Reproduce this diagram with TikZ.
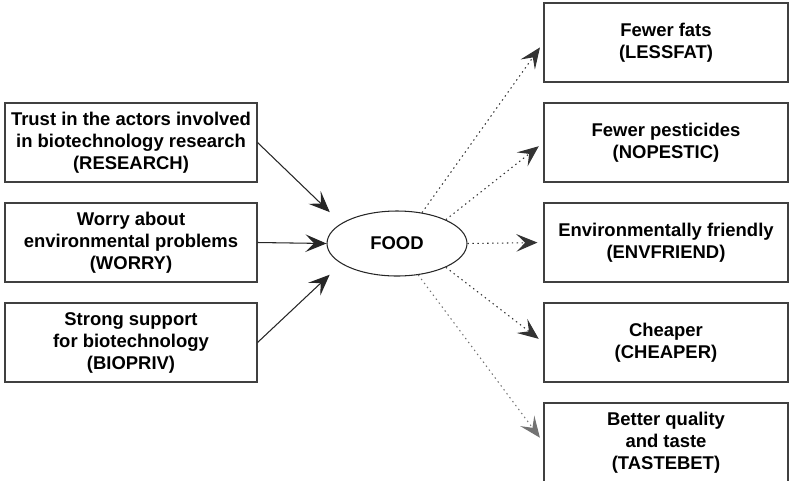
\documentclass[tikz,border=0pt]{standalone}
\usepackage{fontspec}
\setmainfont{Liberation Sans}
\usetikzlibrary{arrows.meta,shapes.geometric}

\tikzset{
	var/.style={draw=black!75, line width=0.6pt, minimum width=5.04cm, minimum height=1.58cm,
		align=center, font=\fontsize{10.5}{12.5}\selectfont\bfseries},
	outcome/.style={var, minimum width=4.88cm},
	latent/.style={ellipse, draw=black!85, line width=0.6pt, minimum width=2.8cm, minimum height=1.3cm,
		inner sep=0pt, font=\fontsize{10.5}{12.5}\selectfont\bfseries},
	cause/.style={->, draw=black!85, line width=0.6pt},
	effect/.style={->, draw=black!80, line width=0.6pt, dash pattern=on 0.8pt off 2pt, shorten >=0.12cm},
}

\begin{document}
\begin{tikzpicture}[node distance=2cm, >={Stealth[length=12pt,width=10pt,inset=5pt]}]
	\useasboundingbox (0,0) rectangle (15.78,-9.6);

	\node[var] (res) at (2.62,-2.85) {Trust in the actors involved\\in biotechnology research\\(RESEARCH)};
	\node[var] (worry) [below of=res] {Worry about\\environmental problems\\(WORRY)};
	\node[var] (biopriv) [below of=worry] {Strong support\\for biotechnology\\(BIOPRIV)};

	\node[latent] (food) at (7.94,-4.87) {FOOD};

	\node[outcome] (lessfat) at (13.32,-0.85) {Fewer fats\\(LESSFAT)};
	\node[outcome] (nopestic) [below of=lessfat] {Fewer pesticides\\(NOPESTIC)};
	\node[outcome] (envfriend) [below of=nopestic] {Environmentally friendly\\(ENVFRIEND)};
	\node[outcome] (cheaper) [below of=envfriend] {Cheaper\\(CHEAPER)};
	\node[outcome] (tastebet) [below of=cheaper] {Better quality\\and taste\\(TASTEBET)};

	\draw[cause, shorten >=0.32cm] (res.east) -- (food.160);
	\draw[cause] (worry.east) -- (food.west);
	\draw[cause, shorten >=0.32cm] (biopriv.east) -- (food.200);

	\draw[effect] (food.51) -- (lessfat.west);
	\draw[effect] (food.26) -- (nopestic.west);
	\draw[effect] (food.east) -- (envfriend.west);
	\draw[effect] (food.-26) -- (cheaper.west);
	\draw[effect, draw=black!55] (food.-56) -- (tastebet.west);
\end{tikzpicture}
\end{document}
